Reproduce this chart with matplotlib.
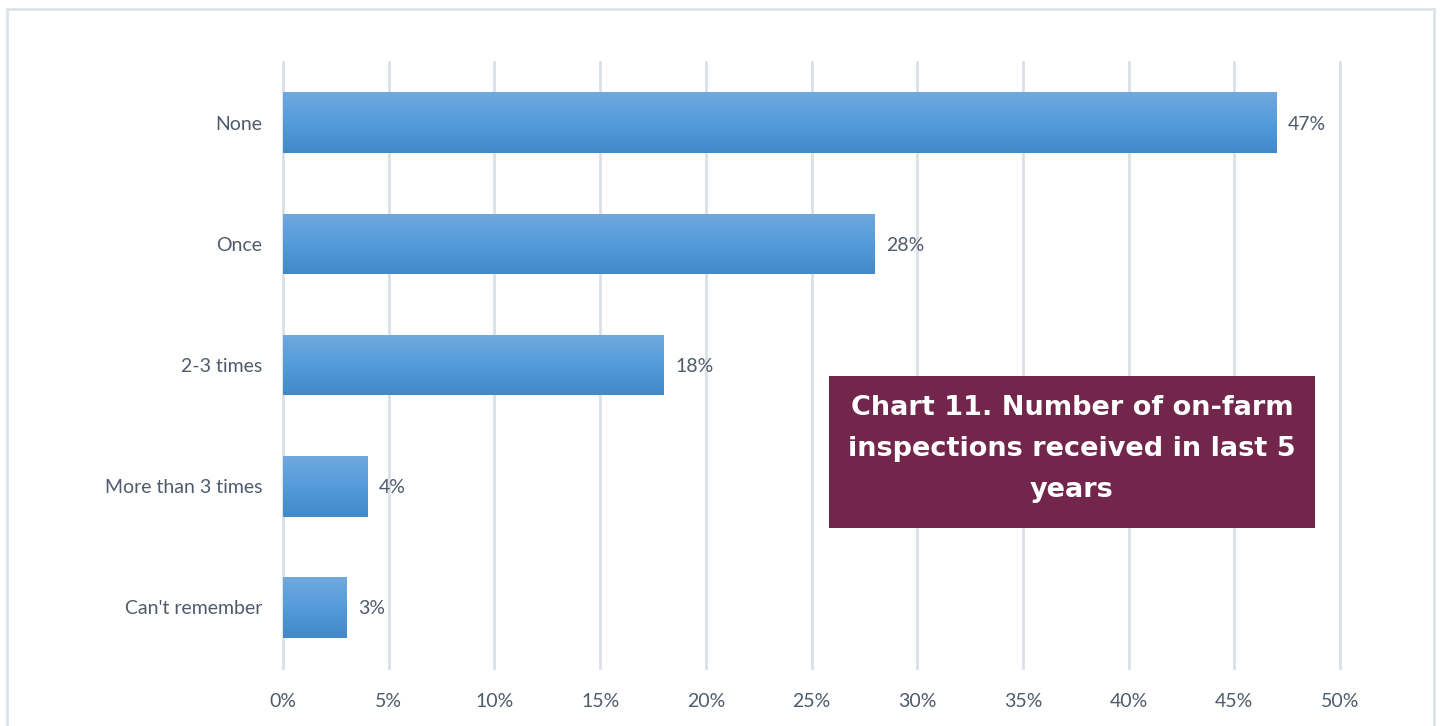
import numpy as np
import matplotlib.pyplot as plt
from matplotlib.patches import Rectangle
from matplotlib.colors import LinearSegmentedColormap

# inspections in the last 5 years, share of respondents (%)
categories = ['None', 'Once', '2-3 times', 'More than 3 times', "Can't remember"]
shares = [47, 28, 18, 4, 3]
xticks = [0, 5, 10, 15, 20, 25, 30, 35, 40, 45, 50]

title = 'Chart 11. Number of on-farm\ninspections received in last 5\nyears'

text_col = '#4f5b6c'
grid_col = '#dbe0e8'
box_col = '#72264c'

plt.rcParams['font.family'] = ['Lato', 'DejaVu Sans']

fig = plt.figure(figsize=(14.42, 7.26), dpi=100)
fig.patch.set_facecolor('white')

# light frame around the whole chart
fig.patches.append(Rectangle((7 / 1442, -0.05), 1427 / 1442, 1.05 - 9 / 726,
                             transform=fig.transFigure, fill=False,
                             edgecolor='#dde3ea', linewidth=2))

ax = fig.add_axes([283 / 1442, 58 / 726, 1057 / 1442, 606 / 726])
y = np.arange(len(categories))
bars = ax.barh(y, shares, height=0.5, color='#559bdc', zorder=2)

# vertical gradient fill for each bar, light on top
grad = LinearSegmentedColormap.from_list('bar', ['#70a9de', '#559bdc', '#4388c9'])
for b in bars:
    x0, y0 = b.get_x(), b.get_y()
    w, h = b.get_width(), b.get_height()
    im = ax.imshow(np.linspace(0, 1, 100).reshape(-1, 1), cmap=grad, aspect='auto',
                   extent=[x0, x0 + w, y0 + h, y0], origin='upper', zorder=3)
    im.set_clip_path(b)

for yi, v in zip(y, shares):
    ax.text(v + 0.55, yi, f'{v}%', va='center_baseline', ha='left', fontsize=14,
            color=text_col, zorder=4)

ax.set_xlim(0, 50)
ax.set_ylim(4.5, -0.5)
ax.set_xticks(xticks)
ax.set_xticklabels([f'{t}%' for t in xticks])
ax.set_yticks(y)
ax.set_yticklabels(categories)
ax.tick_params(axis='both', length=0, labelsize=14, labelcolor=text_col)
ax.tick_params(axis='x', pad=18)
ax.tick_params(axis='y', pad=15)
ax.grid(axis='x', color=grid_col, linewidth=2, zorder=0)
for gl in ax.get_xgridlines():
    gl.set_clip_on(False)
ax.set_axisbelow(True)
for s in ax.spines.values():
    s.set_visible(False)

# title box
fig.patches.append(Rectangle((829 / 1442, 1 - 528 / 726), 486 / 1442, 152 / 726,
                             transform=fig.transFigure, facecolor=box_col,
                             edgecolor='none', zorder=5))
fig.text((829 + 486 / 2) / 1442, 1 - 449 / 726, title, ha='center', va='center',
         color='white', fontsize=19.5, fontweight='bold', linespacing=1.75,
         family='DejaVu Sans', zorder=6)

fig.savefig('out.png', dpi=100)
